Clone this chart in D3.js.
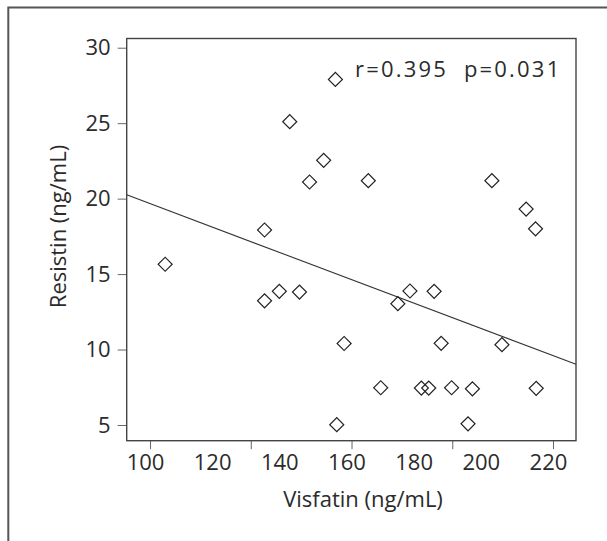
<!DOCTYPE html>
<html>
<head>
<meta charset="utf-8">
<script src="https://cdn.jsdelivr.net/npm/d3@7"></script>
<style>
  html, body { margin: 0; padding: 0; background: #fff; overflow: hidden; }
  svg { display: block; }
  svg text { font-family: "Open Sans", sans-serif; fill: #2b2b2b; }
</style>
</head>
<body>
<script>
// Data
const visfatin = [106.0, 135.6, 140.0, 146.0, 135.6, 143.1, 149.0, 153.2, 156.7, 157.1,
  159.3, 166.5, 170.2, 175.3, 178.9, 182.3, 184.5, 186.1, 188.2, 191.3,
  196.2, 197.5, 203.3, 206.3, 213.5, 216.3, 216.5];
const resistin = [15.65, 13.23, 13.86, 13.81, 17.92, 25.1, 21.1, 22.54, 27.9, 5.02,
  10.4, 21.19, 7.47, 13.04, 13.88, 7.45, 7.45, 13.86, 10.41, 7.47,
  5.08, 7.40, 21.19, 10.32, 19.31, 18.0, 7.43];

// fitted line shown in the figure
const fitIntercept = 28.2;
const fitSlope = -0.084;

const xTickLabels = [100, 120, 140, 160, 180, 200, 220];
const xTickMarks = [101.5, 131.5, 161.5, 191.5, 221.5];
const yTickLabels = [5, 10, 15, 20, 25, 30];
const statsText = 'r=0.395  p=0.031';

const width = 607;
const height = 541;
const margin = { top: 38.5, left: 126.7 };
const innerWidth = 449.3;
const innerHeight = 402.2;

const svg = d3.select('body')
  .append('svg')
  .attr('width', width)
  .attr('height', height);

// outer panel border (only top and left are visible)
svg.append('path')
  .attr('d', 'M8.3,541 V7.5 H607')
  .attr('fill', 'none')
  .attr('stroke', '#555')
  .attr('stroke-width', 2);

const g = svg.append('g')
  .attr('transform', `translate(${margin.left},${margin.top})`);

const x = d3.scaleLinear().domain([94.55, 228.35]).range([0, innerWidth]);
const y = d3.scaleLinear().domain([3.96, 30.61]).range([innerHeight, 0]);

// y axis
const yAxis = g.append('g')
  .call(d3.axisLeft(y).tickValues(yTickLabels).tickSize(9).tickPadding(7).tickSizeOuter(0));
yAxis.select('.domain').remove();
yAxis.selectAll('line').attr('stroke', '#666');
yAxis.selectAll('text').style('font-size', '22px').attr('fill', '#2b2b2b');

// x axis: tick marks and labels sit at slightly different places in the source
const xMarks = g.append('g')
  .attr('transform', `translate(0,${innerHeight})`)
  .call(d3.axisBottom(x).tickValues(xTickMarks).tickSize(8.5).tickSizeOuter(0));
xMarks.select('.domain').remove();
xMarks.selectAll('text').remove();
xMarks.selectAll('line').attr('stroke', '#666');

const xLabels = g.append('g')
  .attr('transform', `translate(0,${innerHeight})`)
  .call(d3.axisBottom(x).tickValues(xTickLabels).tickSize(0).tickPadding(14).tickSizeOuter(0));
xLabels.select('.domain').remove();
xLabels.selectAll('line').remove();
xLabels.selectAll('text').style('font-size', '22px').attr('fill', '#2b2b2b');

// plot frame
g.append('rect')
  .attr('width', innerWidth)
  .attr('height', innerHeight)
  .attr('fill', 'none')
  .attr('stroke', '#444')
  .attr('stroke-width', 1.4);

// regression line
const xd = x.domain();
g.append('line')
  .attr('x1', x(xd[0]))
  .attr('y1', y(fitIntercept + fitSlope * xd[0]))
  .attr('x2', x(xd[1]))
  .attr('y2', y(fitIntercept + fitSlope * xd[1]))
  .attr('stroke', '#333')
  .attr('stroke-width', 1.1);

// points as open diamonds
const diamond = d3.symbol().type(d3.symbolSquare).size(98);
g.selectAll('.pt')
  .data(visfatin.map((v, i) => ({ v, r: resistin[i] })))
  .enter()
  .append('path')
  .attr('class', 'pt')
  .attr('d', diamond)
  .attr('transform', d => `translate(${x(d.v)},${y(d.r)}) rotate(45)`)
  .attr('fill', 'none')
  .attr('stroke', '#222')
  .attr('stroke-width', 1.2);

// correlation text
svg.append('text')
  .attr('x', 355)
  .attr('y', 76.7)
  .style('font-size', '22px')
  .style('letter-spacing', '2.2px')
  .style('white-space', 'pre')
  .text(statsText);

// axis titles
svg.append('text')
  .attr('x', 363)
  .attr('y', 507)
  .attr('text-anchor', 'middle')
  .style('font-size', '22px')
  .text('Visfatin (ng/mL)');

svg.append('text')
  .attr('transform', 'translate(66,226.5) rotate(-90)')
  .attr('text-anchor', 'middle')
  .style('font-size', '22px')
  .text('Resistin (ng/mL)');
</script>
</body>
</html>
